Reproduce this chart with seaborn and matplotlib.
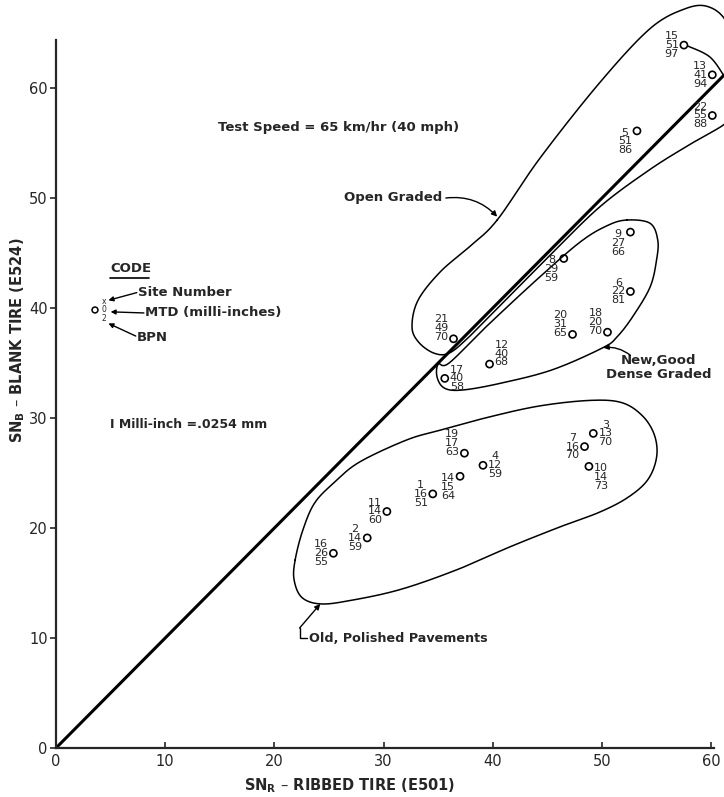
import numpy as np
import pandas as pd
import matplotlib
matplotlib.use("Agg")
import matplotlib.pyplot as plt
import seaborn as sns

# ---------------- data ----------------
site = [15, 13, 22, 5, 21,
        9, 8, 6, 20, 18, 12, 17,
        19, 4, 14, 1, 11, 2, 16, 3, 7, 10]
mtd = [51, 41, 55, 51, 49,
       27, 29, 22, 31, 20, 40, 40,
       17, 12, 15, 16, 14, 14, 26, 13, 16, 14]
bpn = [97, 94, 88, 86, 70,
       66, 59, 81, 65, 70, 68, 58,
       63, 59, 64, 51, 60, 59, 55, 70, 70, 73]
sn_r = [57.5, 60.1, 60.1, 53.2, 36.4,
        52.6, 46.5, 52.6, 47.3, 50.5, 39.7, 35.6,
        37.4, 39.1, 37.0, 34.5, 30.3, 28.5, 25.4, 49.2, 48.4, 48.8]
sn_b = [63.9, 61.2, 57.5, 56.1, 37.2,
        46.9, 44.5, 41.5, 37.6, 37.8, 34.9, 33.6,
        26.8, 25.7, 24.7, 23.1, 21.5, 19.1, 17.7, 28.6, 27.4, 25.6]
group = ["Open Graded"] * 5 + ["New, Good Dense Graded"] * 7 + ["Old, Polished Pavements"] * 10
x_ticks = [0, 10, 20, 30, 40, 50, 60]
y_ticks = [0, 10, 20, 30, 40, 50, 60]

# label placement style (side of circle, which line aligns with circle)
label_side = ["L", "L", "L", "L", "L",
              "L", "L", "L", "L", "L", "R", "R",
              "L", "R", "L", "L", "L", "L", "L", "R", "L", "R"]
label_row = ["mid", "mid", "mid", "top", "bot",
             "top", "top", "mid", "bot", "bot", "bot", "mid",
             "bot", "mid", "top", "mid", "mid", "mid", "mid", "mid", "mid", "top"]

# envelope outlines (annotation shapes)
open_env = [(40.4, 48.0), (44.3, 53.6), (49.8, 60.5), (54.4, 65.4), (57.6, 67.2), (59.7, 67.4),
            (61.4, 66.0), (62.5, 62.5), (62.3, 58.0), (61.2, 56.7), (58.1, 54.9), (54.4, 52.6),
            (49.8, 49.2), (45.2, 44.75), (40.7, 40.25), (37.8, 37.35), (36.0, 35.9), (34.6, 35.9),
            (33.2, 36.9), (32.6, 38.3), (33.15, 40.7), (35.2, 43.3), (37.9, 45.6)]
dense_env = [(52.3, 48.0), (54.4, 47.7), (55.1, 46.2), (55.0, 44.4), (54.4, 41.9), (52.8, 39.2),
             (51.4, 37.4), (50.1, 36.4), (45.5, 34.4), (40.9, 33.2), (37.3, 32.55), (35.6, 32.7),
             (34.9, 33.7), (35.0, 34.9), (36.0, 35.0), (39.5, 38.4), (44.05, 42.6), (48.0, 46.0),
             (50.5, 47.5)]
old_env = [(21.9, 17.1), (22.6, 19.8), (23.7, 22.3), (25.55, 24.2), (27.8, 26.0), (32.1, 28.0),
           (35.2, 28.9), (39.7, 30.1), (44.3, 31.1), (48.9, 31.6), (51.8, 31.4), (53.7, 30.2),
           (54.8, 28.45), (55.0, 26.45), (54.2, 24.4), (52.4, 22.8), (49.8, 21.45), (46.15, 20.1),
           (41.6, 18.3), (36.7, 16.2), (31.5, 14.4), (26.9, 13.4), (24.2, 13.1), (22.5, 13.7),
           (21.8, 15.3)]
top_arc = [(57.9, 63.8), (59.9, 62.8), (61.3, 60.9)]

df = pd.DataFrame({"site": site, "mtd": mtd, "bpn": bpn,
                   "sn_r": sn_r, "sn_b": sn_b, "group": group})


def catmull(pts, closed=True, n=24):
    P = np.asarray(pts, dtype=float)
    m = len(P)
    segs = []
    rng = range(m) if closed else range(m - 1)
    for i in rng:
        p0 = P[i - 1] if (closed or i > 0) else P[0]
        p1 = P[i]
        p2 = P[(i + 1) % m]
        p3 = P[(i + 2) % m] if (closed or i + 2 < m) else P[-1]
        t = np.linspace(0, 1, n, endpoint=False)[:, None]
        segs.append(0.5 * ((2 * p1) + (-p0 + p2) * t + (2 * p0 - 5 * p1 + 4 * p2 - p3) * t ** 2
                           + (-p0 + 3 * p1 - 3 * p2 + p3) * t ** 3))
    out = np.vstack(segs)
    out = np.vstack([out, P[0:1] if closed else P[-1:]])
    return out[:, 0], out[:, 1]


sns.set_style("ticks")
plt.rcParams["font.family"] = ["DejaVu Sans"]

fig = plt.figure(figsize=(7.24, 7.97), dpi=100)
ax = fig.add_axes([56 / 724, 49 / 797, 668 / 724, 748 / 797])
ax.set_xlim(0, 61.17)
ax.set_ylim(0, 68)

# equality line
ax.axline((0, 0), slope=1, color="black", lw=2.2, zorder=2)

# envelopes
for env in (open_env, dense_env, old_env):
    ex, ey = catmull(env)
    ax.plot(ex, ey, color="black", lw=1.1, zorder=2)
ax_, ay_ = catmull(top_arc, closed=False)
ax.plot(ax_, ay_, color="black", lw=1.1, zorder=2)

# points
sns.scatterplot(data=df, x="sn_r", y="sn_b", ax=ax, marker="o", s=26,
                facecolor="none", edgecolor="black", linewidth=1.2, legend=False, zorder=3)

# point labels
line_pt = 7.6
for xi, yi, s_, m_, b_, side, row in zip(sn_r, sn_b, site, mtd, bpn, label_side, label_row):
    txt = f"{s_}\n{m_}\n{b_}"
    dx = -3.6 if side == "L" else 3.6
    dy = {"top": -line_pt, "mid": 0.0, "bot": line_pt}[row]
    ax.annotate(txt, xy=(xi, yi), xytext=(dx, dy), textcoords="offset points",
                ha="right" if side == "L" else "left", va="center", multialignment="center",
                fontsize=8, linespacing=0.86, zorder=4)

# text annotations
ax.text(14.8, 56.45, "Test Speed = 65 km/hr (40 mph)", fontsize=9.5, fontweight="bold", va="center")
ax.text(35.4, 50.0, "Open Graded", fontsize=9.5, fontweight="bold", va="center", ha="right")
ax.annotate("", xy=(40.4, 48.3), xytext=(35.7, 50.0),
            arrowprops=dict(arrowstyle="-|>", color="black", lw=1.0, mutation_scale=8,
                            connectionstyle="arc3,rad=-0.25", shrinkA=0, shrinkB=0))
ax.text(55.2, 34.6, "New,Good\nDense Graded", fontsize=9.5, fontweight="bold",
        ha="center", va="center", multialignment="center", linespacing=1.15)
ax.annotate("", xy=(50.1, 36.4), xytext=(52.6, 35.7),
            arrowprops=dict(arrowstyle="-|>", color="black", lw=1.0, mutation_scale=8,
                            connectionstyle="arc3,rad=0.2", shrinkA=0, shrinkB=0))
ax.text(23.2, 10.0, "Old, Polished Pavements", fontsize=9.2, fontweight="bold", va="center")
ax.plot([23.0, 22.3, 22.3], [10.0, 10.0, 10.9], color="black", lw=1.0)
ax.annotate("", xy=(24.2, 13.1), xytext=(22.3, 10.9),
            arrowprops=dict(arrowstyle="-|>", color="black", lw=1.0, mutation_scale=8,
                            shrinkA=0, shrinkB=0))

# code legend
ax.text(4.95, 43.6, "CODE", fontsize=9.5, fontweight="bold", va="center")
ax.plot([4.95, 8.5], [42.75, 42.75], color="black", lw=1.2)
ax.scatter([3.57], [39.82], s=18, facecolor="none", edgecolor="black", linewidth=1.1)
ax.text(4.4, 39.82, "x\n0\n2", fontsize=5.5, ha="center", va="center", linespacing=0.9)
ax.text(7.5, 41.45, "Site Number", fontsize=9.5, fontweight="bold", va="center")
ax.text(8.15, 39.55, "MTD (milli-inches)", fontsize=9.5, fontweight="bold", va="center")
ax.text(7.4, 37.36, "BPN", fontsize=9.5, fontweight="bold", va="center")
for tail, head in [((7.4, 41.4), (4.8, 40.7)), ((8.05, 39.55), (5.0, 39.65)), ((7.3, 37.45), (4.8, 38.6))]:
    ax.annotate("", xy=head, xytext=tail,
                arrowprops=dict(arrowstyle="-|>", color="black", lw=1.0, mutation_scale=7,
                                shrinkA=0, shrinkB=0))
ax.text(4.95, 29.4, "I Milli-inch =.0254 mm", fontsize=9, fontweight="bold", va="center")

# axes styling
ax.set_xticks(x_ticks)
ax.set_yticks(y_ticks)
ax.set_xticklabels([str(v) for v in x_ticks], fontsize=10.5)
ax.set_yticklabels([str(v) for v in y_ticks], fontsize=10.5)
ax.tick_params(axis="x", direction="in", length=4, width=1.2, pad=4)
ax.tick_params(axis="y", direction="out", length=4, width=1.2, pad=2)
for side_ in ("top", "right"):
    ax.spines[side_].set_visible(False)
ax.spines["left"].set_linewidth(1.6)
ax.spines["bottom"].set_linewidth(1.6)
ax.spines["left"].set_bounds(0, 64.4)
ax.spines["bottom"].set_bounds(0, 60.3)

ax.set_xlabel(r"SN$_\mathbf{R}$ – RIBBED TIRE (E501)", fontsize=10.5, fontweight="bold")
ax.set_ylabel(r"SN$_\mathbf{B}$ – BLANK TIRE (E524)", fontsize=10.5, fontweight="bold")
ax.xaxis.set_label_coords(0.44, -0.051)
ax.xaxis.label.set_va("center")
ax.yaxis.set_label_coords(-0.057, 0.545)
ax.yaxis.label.set_va("center")

fig.savefig("out.png", dpi=100)
